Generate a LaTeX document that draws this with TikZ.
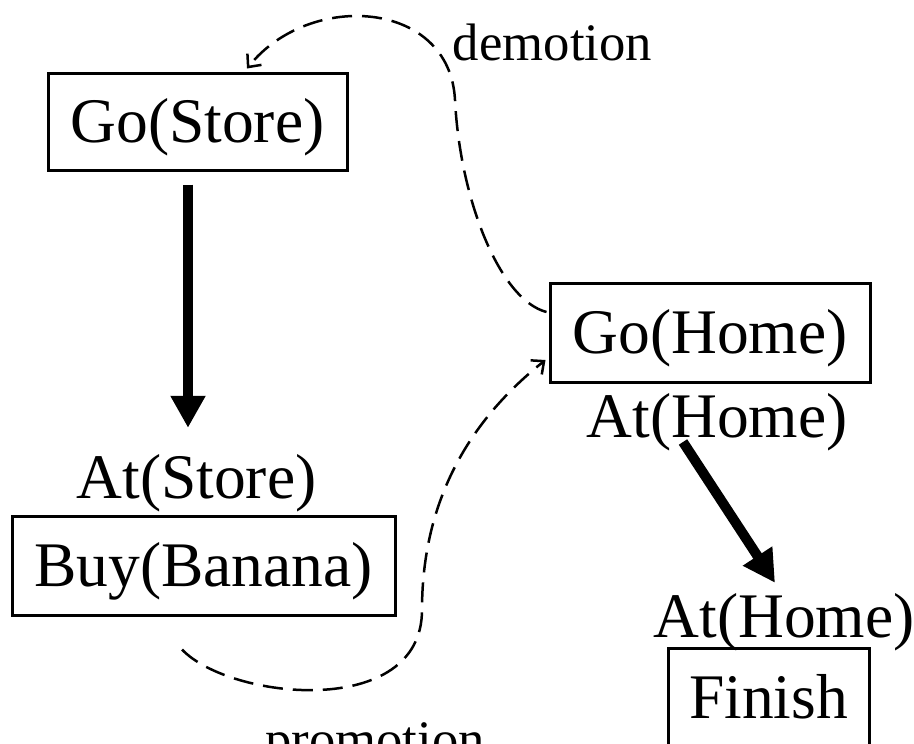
\documentclass[tikz,border=0pt]{standalone}
\usepackage{fontspec}
\setmainfont{Liberation Serif}
\usetikzlibrary{arrows.meta,calc}
\begin{document}
\begin{tikzpicture}[x=1pt,y=-1pt,
  every node/.style={font=\fontsize{63.5}{70}\selectfont},
  box/.style={draw,line width=3pt,inner sep=0pt,text height=51pt,text depth=9pt},
  lbl/.style={inner sep=0pt,anchor=base,text height=46pt,text depth=14pt},
  small/.style={inner sep=0pt,anchor=base,font=\fontsize{52.7}{60}\selectfont},
  thickarrow/.style={line width=10pt,-{Triangle[length=32pt,width=33pt]}},
  dasharrow/.style={line width=2.5pt,dash pattern=on 20pt off 10pt,-{Straight Barb[length=10pt,width=18pt]}},
  dashline/.style={line width=2.5pt,dash pattern=on 20pt off 10pt}]
\path[use as bounding box,clip] (0,0) rectangle (914,744);
\fill[white] (0,0) rectangle (914,744);
% boxes
\node[box,minimum width=299pt,minimum height=97pt] (GS) at (197.5,121.5) {Go(Store)};
\node[box,minimum width=383pt,minimum height=99pt] (BB) at (203.5,565.5) {Buy(Banana)};
\node[box,minimum width=320pt,minimum height=99pt] (GH) at (710,332.5) {Go(Home)};
\node[box,minimum width=201pt,minimum height=99pt] (FI) at (768.5,697.5) {Finish};
% condition labels
\node[lbl] (AS) at (196.5,498) {At(Store)};
\node[lbl] (AH1) at (717,437) {At(Home)};
\node[lbl] (AH2) at (784,637) {At(Home)};
\node[small] (DE) at (552.5,60) {demotion};
\node[small] (PR) at (375,757) {promotion};
% thick causal links
\draw[thickarrow] ($(GS.south)+(-9.5,13)$) -- ($(AS.north)+(-8.5,-24)$);
\draw[thickarrow] ($(AH1.base)+(-34,5)$) -- ($(AH2.north)+(-9,-8)$);
% demotion
\draw[dasharrow] ($(GH.west)+(-2,-20.5)$) .. controls (500,300) and (460,200) .. (455,100)
  .. controls (450,0) and (310,-10) .. ($(GS.north)+(49.5,-3)$);
% promotion
\coordinate (PS) at ($(BB.south)+(-21.5,33)$);
\draw[dasharrow] (PS) .. controls (230,700) and (422,720) .. (422,610)
  .. controls (422,500) and (470,420) .. ($(GH.west)+(-3,27.5)$);
\end{tikzpicture}
\end{document}
